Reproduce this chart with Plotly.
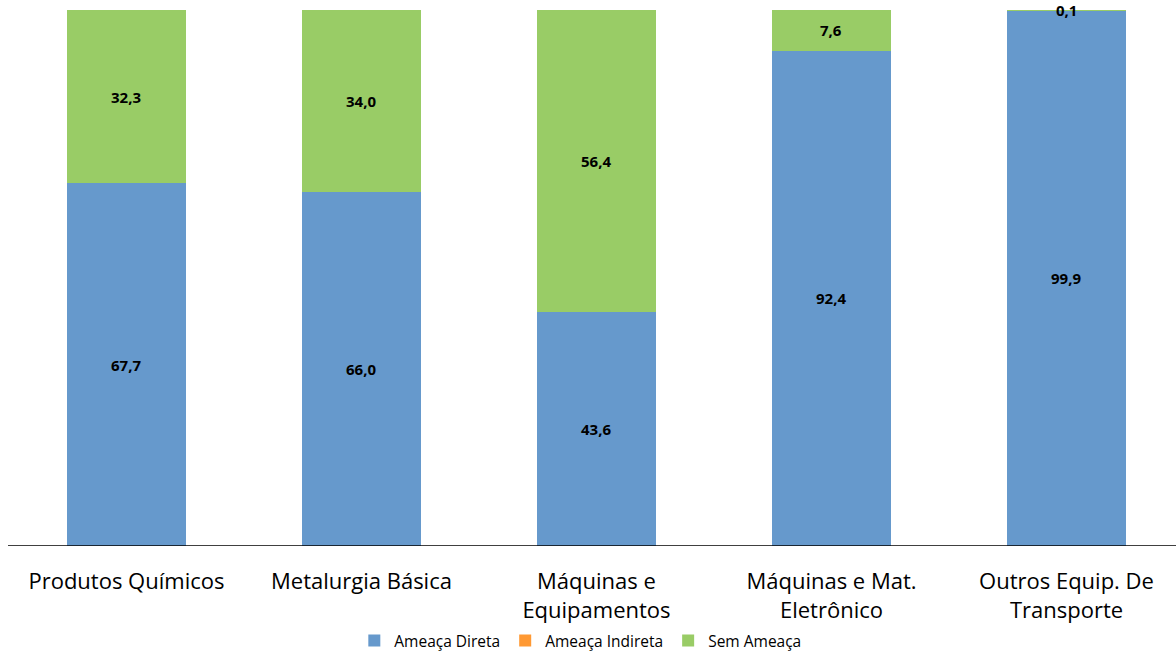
import plotly.graph_objects as go

# Sectors and share of each threat category (%)
categories = [
    "Produtos Químicos",
    "Metalurgia Básica",
    "Máquinas e<br>Equipamentos",
    "Máquinas e Mat.<br>Eletrônico",
    "Outros Equip. De<br>Transporte",
]
ameaca_direta = [67.7, 66.0, 43.6, 92.4, 99.9]
ameaca_indireta = [0.0, 0.0, 0.0, 0.0, 0.0]
sem_ameaca = [32.3, 34.0, 56.4, 7.6, 0.1]

series = [
    ("Ameaça Direta", ameaca_direta, "#6699CC"),
    ("Ameaça Indireta", ameaca_indireta, "#FF9933"),
    ("Sem Ameaça", sem_ameaca, "#99CC66"),
]

FONT = "Open Sans, Liberation Sans, sans-serif"
idx = list(range(len(categories)))

fig = go.Figure()
for name, vals, color in series:
    fig.add_trace(go.Bar(
        x=idx, y=vals, name=name, width=0.51,
        marker=dict(color=color, line=dict(width=0)),
        hoverinfo="skip",
    ))

# Value labels centred on each non-empty segment
annotations = []
base = [0.0] * len(categories)
for name, vals, color in series:
    for i, v in enumerate(vals):
        if v > 0:
            annotations.append(dict(
                x=i, y=base[i] + v / 2, xref="x", yref="y",
                text=f"{v:.1f}".replace(".", ","),
                showarrow=False,
                font=dict(family=FONT, size=15, color="#000000", weight="bold"),
            ))
        base[i] += v

fig.update_layout(
    barmode="stack",
    width=1176, height=651,
    margin=dict(l=8, r=0, t=10, b=105, autoexpand=False),
    paper_bgcolor="white", plot_bgcolor="white",
    separators=",.",
    showlegend=True,
    legend=dict(
        orientation="h", traceorder="normal",
        x=0.49, xanchor="center",
        yref="container", y=0.0154, yanchor="middle",
        font=dict(family=FONT, size=15.5, color="#000000"),
        itemwidth=30, tracegroupgap=0,
    ),
    annotations=annotations,
    xaxis=dict(
        range=[-0.504, 4.466],
        tickmode="array", tickvals=idx, ticktext=categories,
        showgrid=False, zeroline=False, showline=False, ticks="",
        ticklabelstandoff=20,
        tickfont=dict(family=FONT, size=22, color="#000000"),
    ),
    yaxis=dict(
        range=[0, 100], visible=False, showgrid=False, zeroline=False,
    ),
    shapes=[dict(
        type="line", xref="paper", yref="y", x0=0, x1=1, y0=0, y1=0,
        line=dict(color="#000000", width=1.5),
    )],
)

fig.write_html("out.html")
